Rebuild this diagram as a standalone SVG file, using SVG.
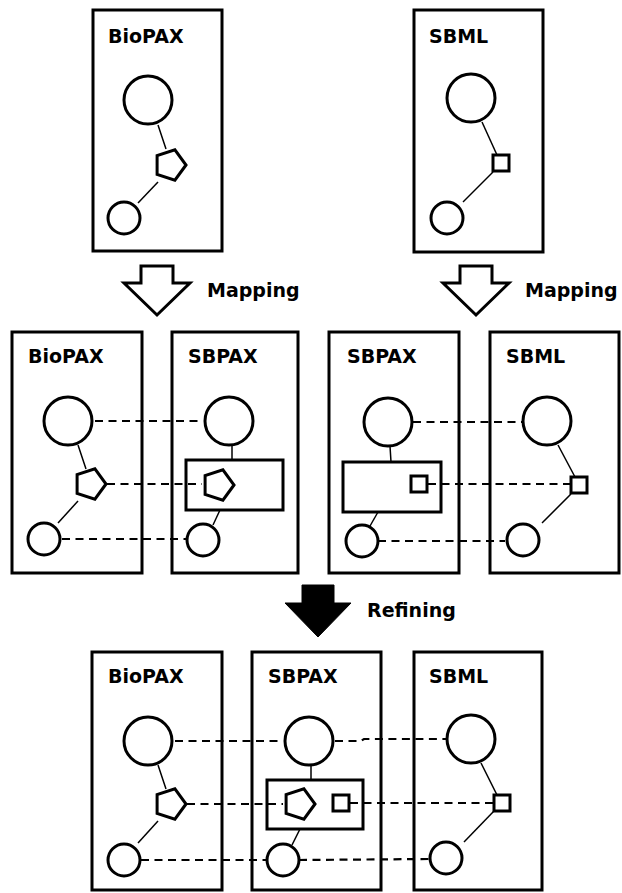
<svg xmlns="http://www.w3.org/2000/svg" width="622" height="893" viewBox="0 0 622 893">
<style>
.panel{fill:#fff;stroke:#000;stroke-width:3}
.node{fill:#fff;stroke:#000;stroke-width:3}
.grp{fill:none;stroke:#000;stroke-width:3}
.link{stroke:#000;stroke-width:1.5;fill:none}
.map{stroke:#000;stroke-width:2.2;stroke-dasharray:8 5.5;fill:none}
.lbl{font-family:"DejaVu Sans",sans-serif;font-weight:bold;font-size:19px;fill:#000}
.harrow{fill:#fff;stroke:#000;stroke-width:3;stroke-linejoin:miter}
.sarrow{fill:#000;stroke:#000;stroke-width:1}
</style>
<defs>
<polygon id="pent" points="16,0 4.9,15.2 -12.9,9.4 -12.9,-9.4 4.9,-15.2"/>
</defs>
<rect width="622" height="893" fill="#fff"/>

<!-- Top row -->
<g id="top-biopax">
<rect class="panel" x="93" y="10" width="129" height="241"/>
<text class="lbl" x="108" y="43">BioPAX</text>
</g>
<g id="top-sbml">
<rect class="panel" x="414" y="10" width="129" height="242"/>
<text class="lbl" x="429" y="43">SBML</text>
</g>

<!-- Middle row -->
<g id="mid-biopax">
<rect class="panel" x="12" y="332" width="130" height="241"/>
<text class="lbl" x="28" y="363">BioPAX</text>
</g>
<g id="mid-sbpax1">
<rect class="panel" x="172" y="332" width="126" height="241"/>
<text class="lbl" x="188" y="363">SBPAX</text>
</g>
<g id="mid-sbpax2">
<rect class="panel" x="329" y="332" width="130" height="241"/>
<text class="lbl" x="347" y="363">SBPAX</text>
</g>
<g id="mid-sbml">
<rect class="panel" x="490" y="332" width="129" height="241"/>
<text class="lbl" x="506" y="363">SBML</text>
</g>

<!-- Bottom row -->
<g id="bot-biopax">
<rect class="panel" x="92" y="652" width="130" height="238"/>
<text class="lbl" x="108" y="683">BioPAX</text>
</g>
<g id="bot-sbpax">
<rect class="panel" x="252" y="652" width="129" height="238"/>
<text class="lbl" x="268" y="683">SBPAX</text>
</g>
<g id="bot-sbml">
<rect class="panel" x="414" y="652" width="128" height="238"/>
<text class="lbl" x="429" y="683">SBML</text>
</g>

<!-- Connectors -->
<g id="connectors">
<line class="link" x1="158" y1="125" x2="166" y2="149"/>
<line class="link" x1="158" y1="182" x2="138" y2="203"/>
<line class="link" x1="482" y1="122" x2="497" y2="155"/>
<line class="link" x1="493" y1="172" x2="463" y2="202"/>
<line class="link" x1="78" y1="445" x2="86" y2="469"/>
<line class="link" x1="78" y1="501" x2="58" y2="523"/>
<line class="link" x1="232" y1="446" x2="232" y2="460"/>
<line class="link" x1="220" y1="510" x2="213" y2="525"/>
<line class="link" x1="390" y1="446" x2="391" y2="462"/>
<line class="link" x1="378" y1="512" x2="370" y2="526"/>
<line class="link" x1="558" y1="445" x2="575" y2="477"/>
<line class="link" x1="571" y1="494" x2="542" y2="523"/>
<line class="link" x1="158" y1="765" x2="166" y2="789"/>
<line class="link" x1="158" y1="821" x2="138" y2="843"/>
<line class="link" x1="311" y1="766" x2="311" y2="780"/>
<line class="link" x1="300" y1="829" x2="292" y2="845"/>
<line class="link" x1="481" y1="763" x2="497" y2="795"/>
<line class="link" x1="494" y1="811" x2="464" y2="842"/>

<line class="map" x1="95" y1="421" x2="203" y2="421"/>
<line class="map" x1="107" y1="484" x2="202" y2="484"/>
<line class="map" x1="62" y1="539" x2="187" y2="539"/>
<line class="map" x1="413" y1="422" x2="522" y2="422"/>
<line class="map" x1="428" y1="484" x2="570" y2="484"/>
<line class="map" x1="378" y1="541" x2="505" y2="541"/>
<line class="map" x1="175" y1="741" x2="283" y2="741"/>
<polyline class="map" points="335,741 361,741 364,739 446,739"/>
<line class="map" x1="187" y1="804" x2="283" y2="804"/>
<line class="map" x1="350" y1="803" x2="493" y2="803"/>
<line class="map" x1="141" y1="860" x2="267" y2="860"/>
<line class="map" x1="299" y1="860" x2="430" y2="859"/>
</g>

<!-- Nodes -->
<g id="top-biopax-nodes">
<circle class="node" cx="148" cy="100" r="24"/>
<use href="#pent" class="node" x="170" y="165"/>
<circle class="node" cx="124" cy="218" r="16"/>
</g>
<g id="top-sbml-nodes">
<circle class="node" cx="471" cy="98" r="24"/>
<rect class="node" x="493" y="155" width="16" height="16" stroke-width="2.5"/>
<circle class="node" cx="447" cy="218" r="16"/>
</g>
<g id="mid-biopax-nodes">
<circle class="node" cx="68" cy="421" r="24"/>
<use href="#pent" class="node" x="90" y="484"/>
<circle class="node" cx="44" cy="539" r="16"/>
</g>
<g id="mid-sbpax1-nodes">
<circle class="node" cx="229" cy="421" r="24"/>
<rect class="grp" x="186" y="460" width="97" height="50"/>
<use href="#pent" class="node" x="218" y="485"/>
<circle class="node" cx="203" cy="540" r="16"/>
</g>
<g id="mid-sbpax2-nodes">
<circle class="node" cx="388" cy="422" r="24"/>
<rect class="grp" x="343" y="462" width="98" height="50"/>
<rect class="node" x="411" y="476" width="16" height="16" stroke-width="2.5"/>
<circle class="node" cx="362" cy="541" r="16"/>
</g>
<g id="mid-sbml-nodes">
<circle class="node" cx="547" cy="421" r="24"/>
<rect class="node" x="571" y="477" width="16" height="16" stroke-width="2.5"/>
<circle class="node" cx="523" cy="540" r="16"/>
</g>
<g id="bot-biopax-nodes">
<circle class="node" cx="148" cy="741" r="24"/>
<use href="#pent" class="node" x="170" y="804"/>
<circle class="node" cx="124" cy="860" r="16"/>
</g>
<g id="bot-sbpax-nodes">
<circle class="node" cx="309" cy="741" r="24"/>
<rect class="grp" x="267" y="780" width="96" height="49"/>
<use href="#pent" class="node" x="299" y="804"/>
<rect class="node" x="333" y="795" width="16" height="16" stroke-width="2.5"/>
<circle class="node" cx="283" cy="860" r="16"/>
</g>
<g id="bot-sbml-nodes">
<circle class="node" cx="471" cy="739" r="24"/>
<rect class="node" x="494" y="795" width="16" height="16" stroke-width="2.5"/>
<circle class="node" cx="446" cy="858" r="16"/>
</g>

<!-- Process arrows -->
<g id="mapping-left">
<polygon class="harrow" points="141,266 173,266 173,283 190,283 157,315 124,283 141,283"/>
<text class="lbl" x="207" y="297">Mapping</text>
</g>
<g id="mapping-right">
<polygon class="harrow" points="460,266 492,266 492,283 509,283 476,315 443,283 460,283"/>
<text class="lbl" x="525" y="297">Mapping</text>
</g>
<g id="refining">
<polygon class="sarrow" points="302,585 334,585 334,603 351,603 318,637 285,603 302,603"/>
<text class="lbl" x="367" y="617">Refining</text>
</g>
</svg>
